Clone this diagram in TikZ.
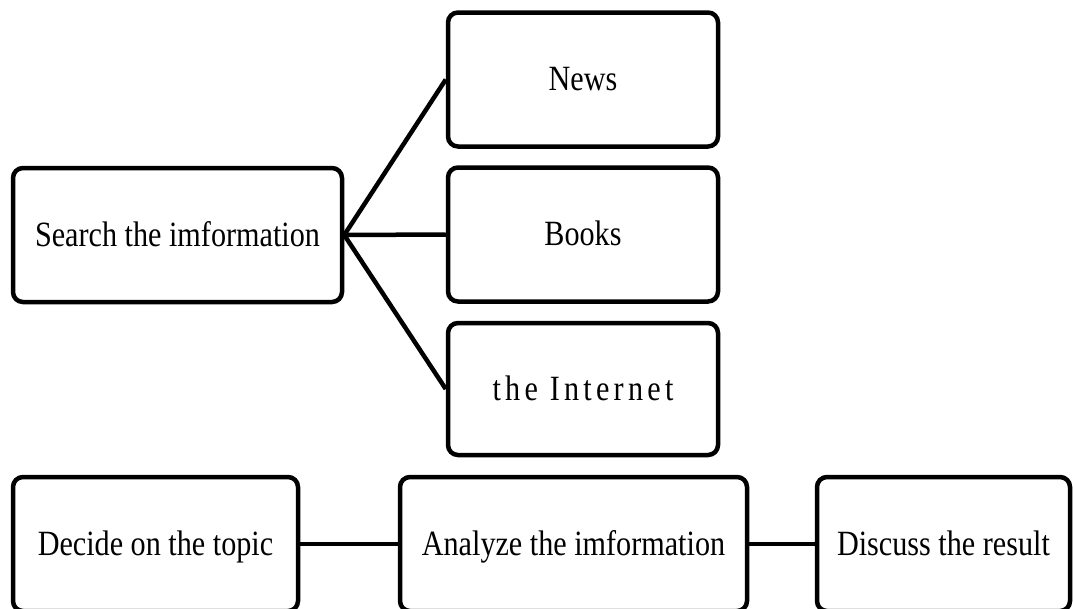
\documentclass[tikz,border=0pt]{standalone}
\usepackage{fontspec}
\setmainfont{Liberation Serif}[FakeStretch=0.85]
\begin{document}
\begin{tikzpicture}[x=1pt, y=-1pt, line width=4.5pt,
                    every node/.style = { draw, rounded corners=10pt, align=center,
                            inner sep=0pt, font=\fontsize{35.5}{40}\selectfont,
                            text height=28pt, text depth=6pt,
                            minimum height=134pt}]
    \useasboundingbox (0,0) rectangle (1073,608);
    \node[minimum width=329pt] (search) at (177.5,235) {Search the imformation};
    \node[minimum width=270pt] (news) at (583,79.5) {News};
    \node[minimum width=270pt] (books) at (583,234.5) {Books};
    \node[minimum width=270pt, minimum height=132pt] (internet) at (583,389)
        {\addfontfeature{LetterSpace=12}the Internet};
    \node[minimum width=285pt] (decide) at (155.5,544) {Decide on the topic};
    \node[minimum width=347pt] (analyze) at (573.5,544) {Analyze the imformation};
    \node[minimum width=253pt] (discuss) at (943.5,544) {Discuss the result};
    \draw (search.east) -- (news.west);
    \draw (search.east) -- (books.west);
    \draw (search.east) -- (internet.west);
    \draw (decide) -- (analyze);
    \draw (analyze) -- (discuss);
\end{tikzpicture}
\end{document}
